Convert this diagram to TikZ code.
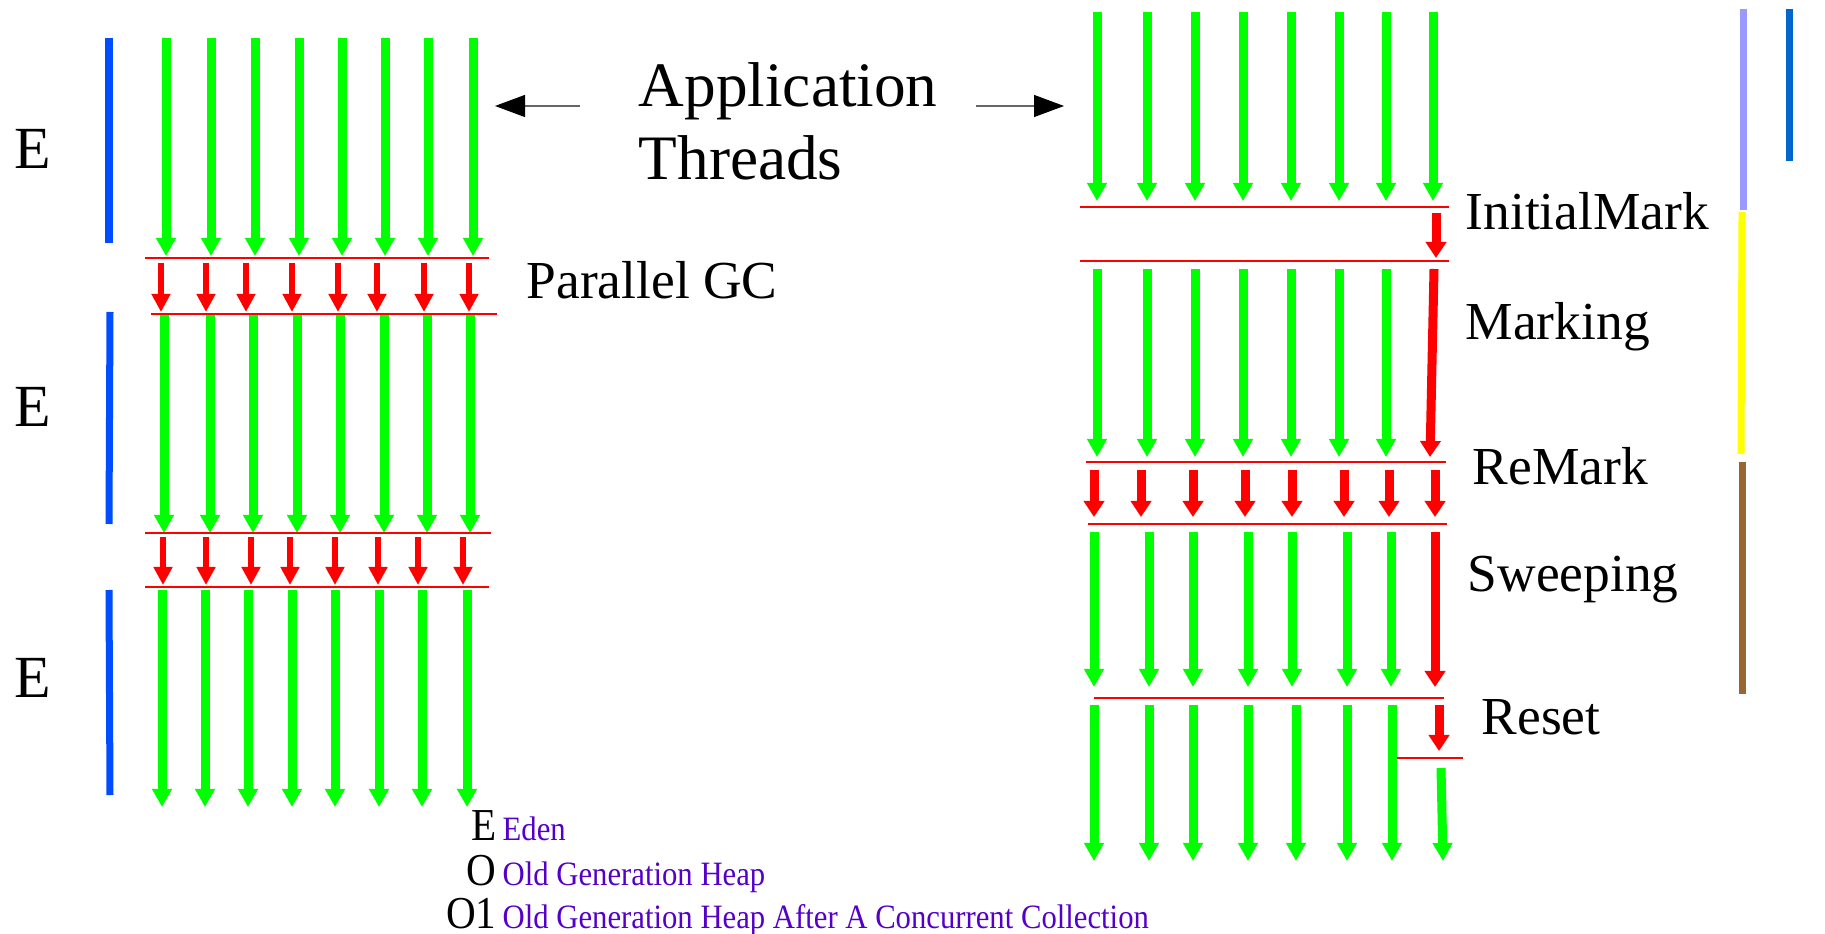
\documentclass[tikz,border=0pt]{standalone}
\usepackage{fontspec}
\setmainfont{Liberation Serif}
\newfontfamily\legendfont[FakeStretch=0.9]{Liberation Serif}
\usetikzlibrary{arrows.meta}

\definecolor{threadgreen}{RGB}{0,255,0}
\definecolor{gcred}{RGB}{255,0,0}
\definecolor{edenblue}{RGB}{0,76,255}
\definecolor{markblue}{RGB}{153,153,255}
\definecolor{markyellow}{RGB}{255,255,0}
\definecolor{sweepbrown}{RGB}{153,102,51}
\definecolor{oldblue}{RGB}{0,102,204}
\definecolor{legendpurple}{RGB}{85,0,200}

\begin{document}
\begin{tikzpicture}[x=0.01cm, y=-0.01cm,
    thread/.style={threadgreen, line width=0.09cm, -{Triangle[width=0.19cm,length=0.18cm]}},
    gcthin/.style={gcred, line width=0.06cm, -{Triangle[width=0.18cm,length=0.18cm]}},
    gcthick/.style={gcred, line width=0.09cm, -{Triangle[width=0.2cm,length=0.16cm]}},
    pause/.style={gcred, line width=0.012cm},
    genbar/.style={line width=0.07cm},
    apparrow/.style={black!60, line width=0.012cm, -{Triangle[width=0.22cm,length=0.3cm,black]}},
    phase/.style={anchor=base west, inner sep=0pt, font=\fontsize{15.2pt}{17pt}\selectfont},
    genlabel/.style={anchor=base, inner sep=0pt, font=\fontsize{17pt}{19pt}\selectfont},
    legkey/.style={anchor=base east, inner sep=0pt, font=\legendfont\fontsize{13pt}{15pt}\selectfont},
    legtext/.style={anchor=base west, inner sep=0pt, text=legendpurple, font=\legendfont\fontsize{9.7pt}{11pt}\selectfont}
  ]
  \useasboundingbox (0,0) rectangle (1825,934);

  % Titel
  \node[align=left, anchor=north west, inner sep=0pt,
        font=\fontsize{18pt}{20.6pt}\selectfont] (app) at (638,62) {Application\\Threads};
  \coordinate (appL1) at (580,106);
  \coordinate (appL2) at (495,106);
  \coordinate (appR1) at (976,106);
  \coordinate (appR2) at (1064,106);
  \draw[apparrow] (appL1) -- (appL2);
  \draw[apparrow] (appR1) -- (appR2);

  % Parallel GC: Eden-Balken
  \draw[genbar, edenblue] (109,38) -- (109,243);
  \draw[genbar, edenblue] (110,312) -- (109,524);
  \draw[genbar, edenblue] (109,590) -- (110,795);
  \node[genlabel] (e1) at (33,169) {E};
  \node[genlabel] (e2) at (33,427) {E};
  \node[genlabel] (e3) at (33,697) {E};

  % Parallel GC: Threads
  \foreach \x in {166,211,255,299,342,385,428,473}
    \draw[thread] (\x,38) -- (\x,256);
  \foreach \x in {164,210,253,297,340,384,427,470}
    \draw[thread] (\x,315) -- (\x,533);
  \foreach \x in {162,205,248,292,335,379,422,467}
    \draw[thread] (\x,590) -- (\x,807);

  % Parallel GC: Pausen
  \draw[pause] (145,258) -- (489,258);
  \draw[pause] (151,314) -- (497,314);
  \draw[pause] (145,533) -- (491,533);
  \draw[pause] (145,587) -- (489,587);
  \foreach \x in {161,206,246,292,338,377,424,469}
    \draw[gcthin] (\x,263) -- (\x,312);
  \foreach \x in {163,206,251,290,335,378,418,463}
    \draw[gcthin] (\x,537) -- (\x,585);
  \node[phase] (pgc) at (526,299) {Parallel GC};

  % CMS: Threads
  \foreach \x in {1097,1147,1195,1243,1291,1339,1386,1433}
    \draw[thread] (\x,12) -- (\x,201);
  \draw[pause] (1080,207) -- (1449,207);
  \draw[gcthick] (1436,213) -- (1436,258);
  \draw[pause] (1080,261) -- (1449,261);
  \node[phase] (im) at (1465,230) {InitialMark};

  \foreach \x in {1097,1147,1195,1243,1291,1339,1386}
    \draw[thread] (\x,269) -- (\x,457);
  \draw[gcthick] (1434,269) -- (1430,457);
  \node[phase] (mk) at (1465,340) {Marking};

  \draw[pause] (1086,462) -- (1446,462);
  \foreach \x in {1094,1141,1193,1245,1292,1344,1389,1435}
    \draw[gcthick] (\x,470) -- (\x,517);
  \draw[pause] (1088,524) -- (1447,524);
  \node[phase] (rm) at (1472,485) {ReMark};

  \foreach \x in {1094,1149,1193,1248,1292,1347,1391}
    \draw[thread] (\x,532) -- (\x,687);
  \draw[gcthick] (1435,532) -- (1435,687);
  \node[phase] (sw) at (1467,591) {Sweeping};

  \draw[pause] (1094,698) -- (1444,698);
  \foreach \x in {1094,1149,1193,1248,1296,1347,1392}
    \draw[thread] (\x,705) -- (\x,861);
  \draw[gcthick] (1439,705) -- (1439,751);
  \draw[pause] (1397,758) -- (1463,758);
  \draw[thread] (1441,768) -- (1443,861);
  \node[phase] (rs) at (1481,734) {Reset};

  % CMS: Generationen
  \draw[genbar, markblue] (1743,9) -- (1743,210);
  \draw[genbar, markyellow] (1742,212) -- (1741,454);
  \draw[genbar, sweepbrown] (1742,462) -- (1742,694);
  \draw[genbar, oldblue] (1789,9) -- (1789,161);

  % Legende
  \node[legkey] (kE) at (497,840) {E};
  \node[legtext] (tE) at (502,840) {Eden};
  \node[legkey] (kO) at (497,885) {O};
  \node[legtext] (tO) at (502,885) {Old Generation Heap};
  \node[legkey] (kO1) at (497,928) {O1};
  \node[legtext] (tO1) at (502,928) {Old Generation Heap After A Concurrent Collection};
\end{tikzpicture}
\end{document}
